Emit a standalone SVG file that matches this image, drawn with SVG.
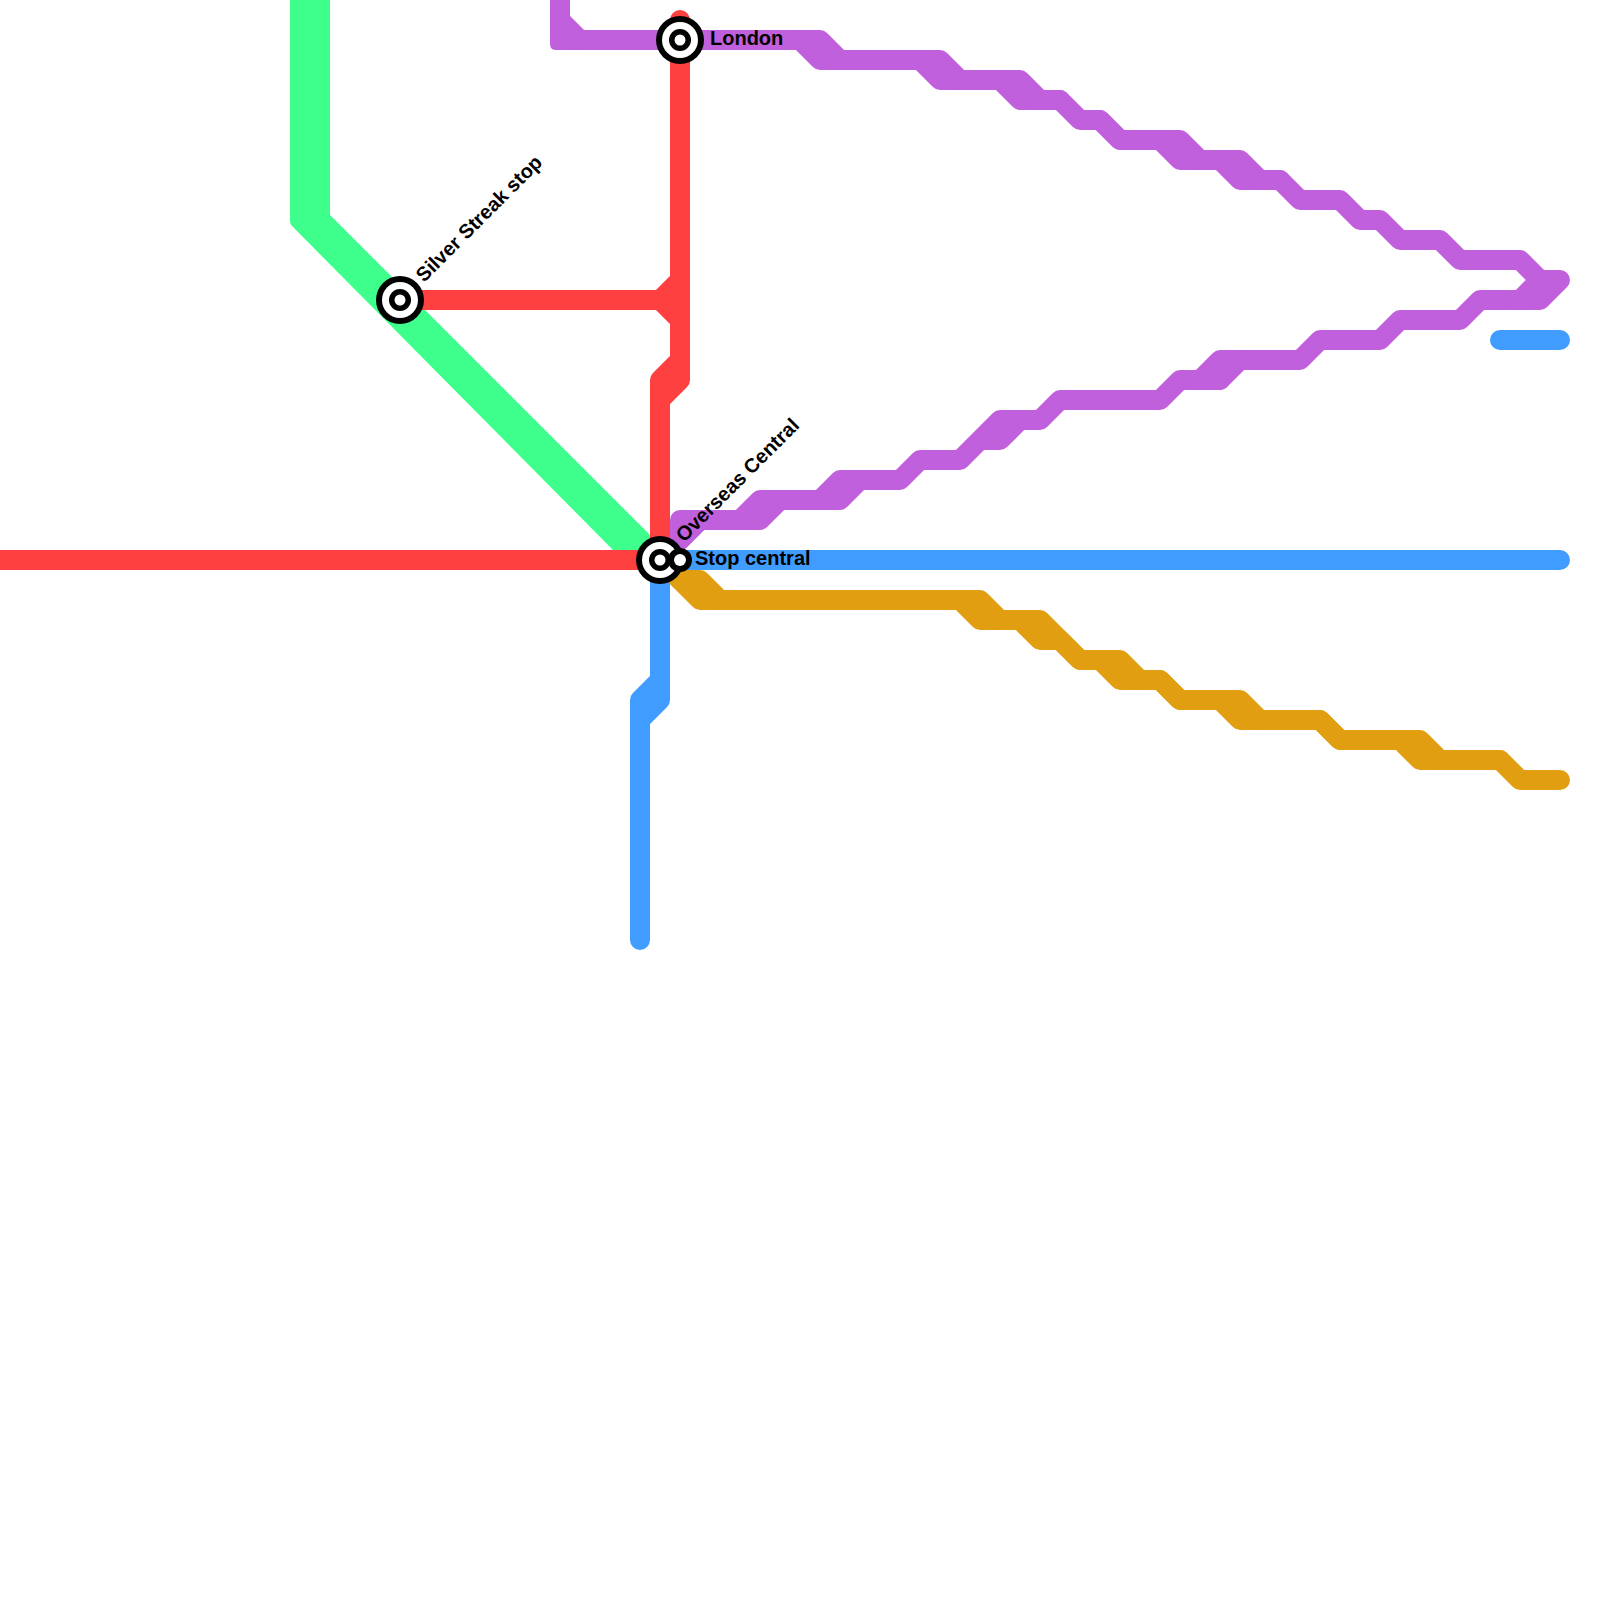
<svg xmlns="http://www.w3.org/2000/svg" width="1600" height="1600" viewBox="0 0 1600 1600">
<style>
.l{fill:none;stroke-width:20;stroke-linejoin:round;stroke-linecap:round}
.r{stroke:#ff4040}.b{stroke:#409cff}.p{stroke:#c060dc}.o{stroke:#e09e10}
.t{font-family:"Liberation Sans",Arial,sans-serif;font-weight:700;font-size:20px;fill:#000}
.k{fill:#000}.w{fill:#fff}
</style>
<g id="connectors">
<path id="green" fill="#3eff8c" d="M290 0H330V215L660 545V552H615L292 226Q290 224 290 221Z"/>
<g id="blue">
<path class="l b" d="M680 560H1560"/>
<path class="l b" d="M660 560V700L640 720V940"/>
<path class="l b" d="M660 680L640 700V720"/>
<path class="l b" d="M1500 340H1560"/>
</g>
<g id="gold">
<path class="l o" d="M660 560L700 600H960L980 620H1020L1040 640H1060L1080 660H1100L1120 680H1160L1180 700H1220L1240 720H1320L1340 740H1400L1420 760H1500L1520 780H1560"/>
<path class="l o" d="M680 580H700L720 600H980L1000 620H1040L1080 660H1120L1140 680H1160L1180 700H1240L1260 720H1320L1340 740H1420L1440 760H1500"/>
</g>
<g id="purple">
<path class="l p" d="M560 0V30M570 40H800L820 60H920L940 80H1000L1020 100H1060L1080 120H1100L1120 140H1160L1180 160H1220L1240 180H1280L1300 200H1340L1360 220H1380L1400 240H1440L1460 260H1520L1540 280H1560L1540 300H1480L1460 320H1400L1380 340H1320L1300 360H1240L1220 380H1180L1160 400H1060L1040 420H1020L1000 440H980L960 460H920L900 480H860L840 500H780L760 520H700L680 540V520H740L760 500H820L840 480H900L920 460H960L1000 420H1040L1060 400"/>
<path fill="#c060dc" d="M550 0H570V50H556Q550 50 550 44Z"/>
<path class="l p" d="M560 20L580 40M800 40H820L840 60H940L960 80H1020L1040 100H1060M1100 120L1120 140H1180L1200 160H1240L1260 180H1280"/>
<path class="l p" d="M1520 300L1540 280M1240 360H1220L1200 380H1220M700 520L680 540L660 560"/>
</g>
<g id="red">
<path class="l r" d="M0 560H660V380L680 360"/>
<path class="l r" d="M680 20V380L660 400"/>
<path class="l r" d="M400 300H660L680 280M660 300L680 320"/>
</g>
</g>
<g id="station-silver-streak"><circle class="k" cx="400" cy="300" r="24"/><circle class="w" cx="400" cy="300" r="18"/><circle class="k" cx="400" cy="300" r="11"/><circle class="w" cx="400" cy="300" r="5.5"/><text class="t" transform="translate(424 283) rotate(-45)">Silver Streak stop</text></g>
<g id="station-london"><circle class="k" cx="680" cy="40" r="24"/><circle class="w" cx="680" cy="40" r="18"/><circle class="k" cx="680" cy="40" r="11"/><circle class="w" cx="680" cy="40" r="5.5"/><text class="t" x="710" y="45">London</text></g>
<g id="station-overseas"><circle class="k" cx="660" cy="560" r="24"/><circle class="w" cx="660" cy="560" r="18"/><circle class="k" cx="660" cy="560" r="11"/><circle class="w" cx="660" cy="560" r="5.5"/><text class="t" transform="translate(684 543) rotate(-45)">Overseas Central</text></g>
<g id="station-central"><circle class="k" cx="680" cy="560" r="12"/><circle class="w" cx="680" cy="560" r="6"/><text class="t" x="695" y="565">Stop central</text></g>
</svg>
